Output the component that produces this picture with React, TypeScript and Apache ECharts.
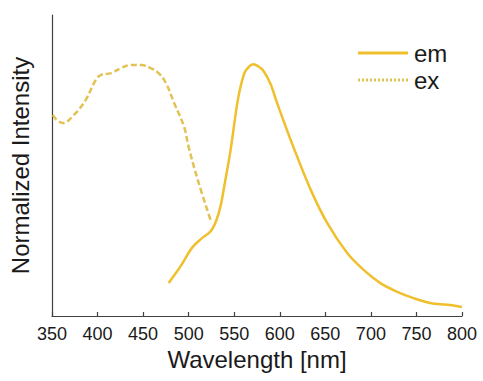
import React, { useEffect, useRef } from "react";
import * as echarts from "echarts";

const xTicks = [350, 400, 450, 500, 550, 600, 650, 700, 750, 800];

const emWavelengths = [478, 491, 504, 514, 524, 530, 535, 539, 546, 554, 561, 566, 571, 576, 582, 590, 597, 615, 634, 652, 674, 692, 710, 729, 746, 765, 784, 800];
const emValues = [0.11, 0.165, 0.228, 0.257, 0.281, 0.315, 0.365, 0.43, 0.551, 0.718, 0.806, 0.828, 0.836, 0.83, 0.815, 0.77, 0.708, 0.561, 0.419, 0.309, 0.209, 0.153, 0.11, 0.08, 0.06, 0.043, 0.037, 0.03];

const exWavelengths = [351, 355, 362, 374, 387, 398, 404, 415, 426, 437, 448, 458, 467, 475, 484, 495, 500, 510, 524];
const exValues = [0.668, 0.652, 0.641, 0.668, 0.718, 0.784, 0.801, 0.807, 0.824, 0.834, 0.834, 0.824, 0.807, 0.774, 0.708, 0.628, 0.561, 0.452, 0.319];

const emColor = "#F0BF2C";
const exColor = "#E2C252";

const dotIcon =
  "path://" +
  Array.from({ length: 13 }, (_, i) => `M${i * 4},0h2v3h-2z`).join(" ");

export default function App() {
  const ref = useRef<HTMLDivElement>(null);
  useEffect(() => {
    if (!ref.current) return;
    const chart = echarts.init(ref.current, undefined, { renderer: "svg" });
    const font = "Liberation Sans, Arial, sans-serif";
    chart.setOption({
      animation: false,
      backgroundColor: "#ffffff",
      textStyle: { fontFamily: font },
      grid: { left: 51, right: 21, top: 15, bottom: 65, containLabel: false },
      legend: {
        orient: "vertical",
        left: 353,
        top: 36,
        itemWidth: 50,
        itemHeight: 3,
        itemGap: 3,
        symbolKeepAspect: false,
        textStyle: { fontSize: 24, color: "#1a1a1a", fontFamily: font, padding: [0, 0, 0, 1] },
        data: [
          { name: "em", icon: "rect", itemStyle: { color: emColor } },
          { name: "ex", icon: dotIcon, itemStyle: { color: exColor } },
        ],
      },
      xAxis: {
        type: "value",
        min: 350,
        max: 800,
        interval: 50,
        name: "Wavelength [nm]",
        nameLocation: "middle",
        nameGap: 30,
        nameTextStyle: { fontSize: 24, color: "#1a1a1a", fontFamily: font },
        axisLine: { show: true, lineStyle: { color: "#404040", width: 1.2 } },
        axisTick: { show: true, inside: true, length: 4, lineStyle: { color: "#404040", width: 1.2 } },
        axisLabel: {
          fontSize: 18,
          color: "#1a1a1a",
          margin: 9,
          fontFamily: font,
          formatter: (v: number) => (xTicks.includes(v) ? String(v) : ""),
        },
        splitLine: { show: false },
      },
      yAxis: {
        type: "value",
        min: 0,
        max: 1,
        name: "Normalized Intensity",
        nameLocation: "middle",
        nameGap: 20,
        nameTextStyle: { fontSize: 24, color: "#1a1a1a", fontFamily: font },
        axisLine: { show: true, lineStyle: { color: "#404040", width: 1.2 } },
        axisTick: { show: false },
        axisLabel: { show: false },
        splitLine: { show: false },
      },
      series: [
        {
          name: "em",
          type: "line",
          smooth: 0.35,
          symbol: "none",
          lineStyle: { color: emColor, width: 2.5 },
          itemStyle: { color: emColor },
          data: emWavelengths.map((w, i) => [w, emValues[i]]),
        },
        {
          name: "ex",
          type: "line",
          smooth: 0.4,
          symbol: "none",
          lineStyle: { color: exColor, width: 2.5, type: [6, 3] },
          itemStyle: { color: exColor },
          data: exWavelengths.map((w, i) => [w, exValues[i]]),
        },
      ],
    });
    return () => chart.dispose();
  }, []);
  return <div ref={ref} style={{ width: 483, height: 381, position: "absolute", left: 0, top: 0 }} />;
}
